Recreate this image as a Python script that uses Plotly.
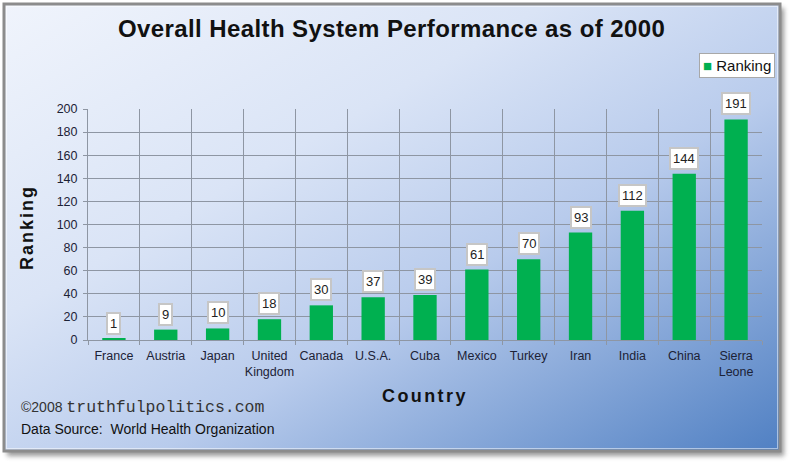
import base64
import plotly.graph_objects as go

countries = ["France", "Austria", "Japan", "United<br>Kingdom", "Canada", "U.S.A.",
             "Cuba", "Mexico", "Turkey", "Iran", "India", "China", "Sierra<br>Leone"]
ranking = [1, 9, 10, 18, 30, 37, 39, 61, 70, 93, 112, 144, 191]
y_ticks = [0, 20, 40, 60, 80, 100, 120, 140, 160, 180, 200]
series_name = "Ranking"

W, H = 795, 469
L, R, T, B = 88, 33, 109, 129
pw, ph = W - L - R, H - T - B

svg = """<svg xmlns='http://www.w3.org/2000/svg' width='795' height='469' viewBox='0 0 795 469'>
<defs>
<linearGradient id='g' x1='0' y1='0' x2='1' y2='1'>
<stop offset='0' stop-color='#f0f4fc'/>
<stop offset='0.35' stop-color='#dae4f6'/>
<stop offset='0.6' stop-color='#b8cbec'/>
<stop offset='1' stop-color='#5080c3'/>
</linearGradient>
<filter id='s' x='-5%' y='-5%' width='110%' height='110%'><feGaussianBlur stdDeviation='2.5'/></filter>
</defs>
<rect x='7' y='8' width='777' height='448' fill='#555' opacity='0.6' filter='url(#s)'/>
<rect x='4' y='4' width='776' height='447' fill='url(#g)' stroke='#8c8c8c' stroke-width='3'/>
<rect x='6.5' y='6.5' width='771' height='442' fill='none' stroke='#ffffff' stroke-opacity='0.5' stroke-width='1'/>
</svg>"""
src = "data:image/svg+xml;base64," + base64.b64encode(svg.encode()).decode()

FONT = "Liberation Sans, Arial"

fig = go.Figure()
fig.add_trace(go.Bar(
    x=countries, y=ranking, name=series_name,
    marker=dict(color="#00B050", line=dict(width=0)),
    showlegend=False,
))

annotations = []
for c, v in zip(countries, ranking):
    annotations.append(dict(
        x=c, y=v, xref="x", yref="y", text=str(v), showarrow=False,
        yanchor="bottom", yshift=4,
        font=dict(family=FONT, size=13, color="#222222"),
        bgcolor="#ffffff", bordercolor="#c6c6c6", borderwidth=2, borderpad=2,
    ))

def px_x(px):
    return (px - L) / pw

def px_y(py):
    return (H - B - py) / ph

annotations += [
    dict(text="<span style='letter-spacing:0.4px'><b>Overall Health System Performance as of 2000</b></span>",
         x=px_x(391), y=px_y(28),
         xref="paper", yref="paper", showarrow=False, xanchor="center", yanchor="middle",
         font=dict(family=FONT, size=24, color="#111111")),
    dict(text="<span style='letter-spacing:2px'><b>Ranking</b></span>", x=px_x(27), y=px_y(228),
         xref="paper", yref="paper",
         showarrow=False, textangle=-90, xanchor="center", yanchor="middle",
         font=dict(family=FONT, size=18, color="#111111")),
    dict(text="<span style='letter-spacing:2.4px'><b>Country</b></span>", x=px_x(425), y=px_y(396),
         xref="paper", yref="paper",
         showarrow=False, xanchor="center", yanchor="middle",
         font=dict(family=FONT, size=18, color="#111111")),
    dict(text="©2008 <span style='font-family:Liberation Mono, Courier New; font-size:16.5px'>truthfulpolitics.com</span>",
         x=px_x(19), y=px_y(407), xref="paper", yref="paper", showarrow=False,
         xanchor="left", yanchor="middle",
         font=dict(family=FONT, size=14, color="#333333")),
    dict(text="Data Source:  World Health Organization", x=px_x(19), y=px_y(429),
         xref="paper", yref="paper", showarrow=False, xanchor="left", yanchor="middle",
         font=dict(family=FONT, size=14, color="#111111")),
    # legend box
    dict(text="<span style='color:#00B050'>■</span> " + series_name,
         x=px_x(775), y=px_y(53), xref="paper", yref="paper", showarrow=False,
         xanchor="right", yanchor="top",
         font=dict(family=FONT, size=15, color="#111111"),
         bgcolor="#ffffff", bordercolor="#a8a8a8", borderwidth=1, borderpad=3),
]

fig.update_layout(
    width=W, height=H,
    margin=dict(l=L, r=R, t=T, b=B, pad=0),
    paper_bgcolor="#ffffff",
    plot_bgcolor="rgba(0,0,0,0)",
    bargap=0.55,
    showlegend=False,
    images=[dict(source=src, xref="paper", yref="paper",
                 x=px_x(0), y=px_y(0), sizex=W / pw, sizey=H / ph,
                 xanchor="left", yanchor="top", sizing="stretch", layer="below")],
    xaxis=dict(
        type="category", tickson="boundaries", showgrid=True, gridcolor="#8e96a3", gridwidth=1,
        showline=True, linecolor="#8e96a3", linewidth=1, ticks="outside", ticklen=4,
        tickcolor="#8e96a3", mirror=False, zeroline=False, tickangle=0, ticklabelstandoff=4,
        tickfont=dict(family=FONT, size=12.5, color="#1c2236"),
    ),
    yaxis=dict(
        range=[0, 200], tickvals=y_ticks, showgrid=True, gridcolor="#8e96a3", gridwidth=1,
        showline=True, linecolor="#8e96a3", linewidth=1, ticks="outside", ticklen=4,
        tickcolor="#8e96a3", zeroline=False, ticklabelstandoff=3,
        tickfont=dict(family=FONT, size=12.5, color="#1c2236"),
    ),
    annotations=annotations,
)

fig.write_html("out.html", config={"displayModeBar": False},
               post_script="document.body.style.margin='0';document.body.style.padding='0';")
